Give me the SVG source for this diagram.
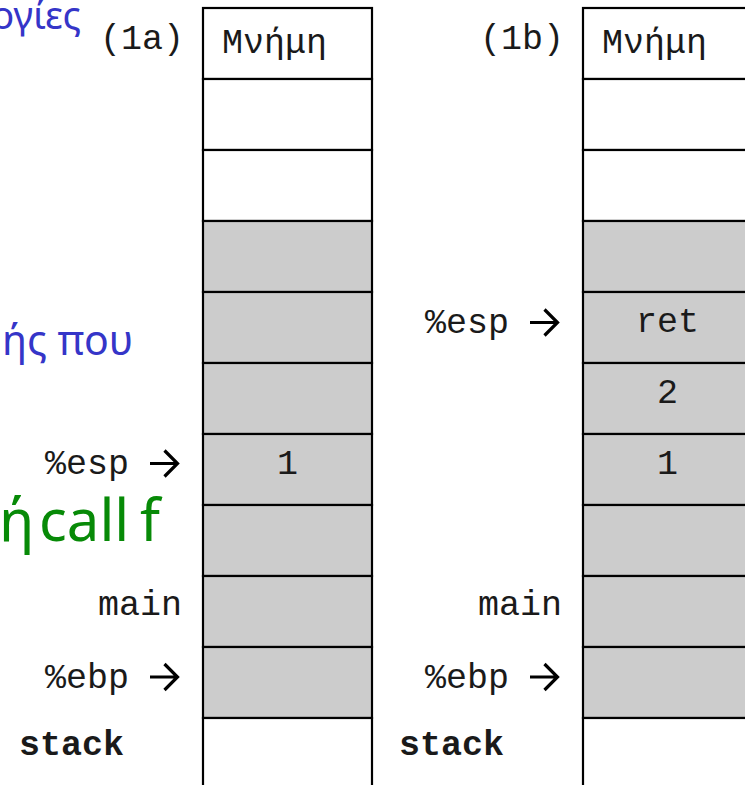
<svg xmlns="http://www.w3.org/2000/svg" width="745" height="785" viewBox="0 0 745 785">
  <style>
    .cell { stroke: #000; stroke-width: 2.2; }
    .empty { fill: #ffffff; }
    .used { fill: #cccccc; }
    .mono { font-family: "Liberation Mono", "Courier New", monospace; font-size: 35px; fill: #1a1a1a; }
    .bold { font-weight: bold; }
    .val { text-anchor: middle; }
    .lbl { text-anchor: end; }
    .note { font-family: "Noto Sans", "Open Sans", sans-serif; }
    .blue { fill: #3535c8; }
    .green { fill: #078a07; }
    .ptr { fill: none; stroke: #000; stroke-width: 3.2; stroke-linejoin: miter; }
  </style>
  <defs>
    <!-- pointer arrow drawn at origin; tip at (28,0) -->
    <path id="ptr" class="ptr" d="M0,0 H26.5 M14.5,-13 L27.5,0 L14.5,13"/>
  </defs>

  <rect width="745" height="785" fill="#ffffff"/>

  <!-- slide text partly outside the frame -->
  <g id="notes">
    <text class="note blue" x="81" y="29" font-size="38" text-anchor="end">ογίες</text>
    <text class="note blue" x="2" y="355" font-size="41">ής που</text>
    <text class="note green" y="541" font-size="58"><tspan x="-31">λή</tspan> <tspan x="39">call</tspan> <tspan x="140">f</tspan></text>
  </g>

  <!-- stack (1a) -->
  <g id="stack-1a">
    <text class="mono" x="100" y="49">(1a)</text>
    <g id="a-r0"><rect class="cell empty" x="203" y="8" width="169" height="71"/><text class="mono" x="222" y="53">Μνήμη</text></g>
    <g id="a-r1"><rect class="cell empty" x="203" y="79" width="169" height="71"/></g>
    <g id="a-r2"><rect class="cell empty" x="203" y="150" width="169" height="71"/></g>
    <g id="a-r3"><rect class="cell used" x="203" y="221" width="169" height="71"/></g>
    <g id="a-r4"><rect class="cell used" x="203" y="292" width="169" height="71"/></g>
    <g id="a-r5"><rect class="cell used" x="203" y="363" width="169" height="71"/></g>
    <g id="a-r6"><rect class="cell used" x="203" y="434" width="169" height="71"/><text class="mono val" x="287.5" y="474">1</text></g>
    <g id="a-r7"><rect class="cell used" x="203" y="505" width="169" height="71"/></g>
    <g id="a-r8"><rect class="cell used" x="203" y="576" width="169" height="71"/></g>
    <g id="a-r9"><rect class="cell used" x="203" y="647" width="169" height="71"/></g>
    <g id="a-r10"><rect class="cell empty" x="203" y="718" width="169" height="72"/></g>
    <text class="mono lbl" x="129" y="474">%esp</text>
    <text class="mono lbl" x="182" y="615">main</text>
    <text class="mono lbl" x="129" y="688">%ebp</text>
    <text class="mono bold" x="19" y="755">stack</text>
  </g>

  <!-- stack (1b) -->
  <g id="stack-1b">
    <text class="mono" x="480" y="49">(1b)</text>
    <g id="b-r0"><rect class="cell empty" x="583" y="8" width="169" height="71"/><text class="mono" x="602" y="53">Μνήμη</text></g>
    <g id="b-r1"><rect class="cell empty" x="583" y="79" width="169" height="71"/></g>
    <g id="b-r2"><rect class="cell empty" x="583" y="150" width="169" height="71"/></g>
    <g id="b-r3"><rect class="cell used" x="583" y="221" width="169" height="71"/></g>
    <g id="b-r4"><rect class="cell used" x="583" y="292" width="169" height="71"/><text class="mono val" x="667.5" y="332">ret</text></g>
    <g id="b-r5"><rect class="cell used" x="583" y="363" width="169" height="71"/><text class="mono val" x="667.5" y="403">2</text></g>
    <g id="b-r6"><rect class="cell used" x="583" y="434" width="169" height="71"/><text class="mono val" x="667.5" y="474">1</text></g>
    <g id="b-r7"><rect class="cell used" x="583" y="505" width="169" height="71"/></g>
    <g id="b-r8"><rect class="cell used" x="583" y="576" width="169" height="71"/></g>
    <g id="b-r9"><rect class="cell used" x="583" y="647" width="169" height="71"/></g>
    <g id="b-r10"><rect class="cell empty" x="583" y="718" width="169" height="72"/></g>
    <text class="mono lbl" x="509" y="333">%esp</text>
    <text class="mono lbl" x="562" y="615">main</text>
    <text class="mono lbl" x="509" y="688">%ebp</text>
    <text class="mono bold" x="399" y="755">stack</text>
  </g>

  <!-- register pointers -->
  <g id="connectors">
    <use href="#ptr" x="150" y="463.5"/>
    <use href="#ptr" x="150" y="677"/>
    <use href="#ptr" x="530" y="322.5"/>
    <use href="#ptr" x="530" y="677"/>
  </g>
</svg>
